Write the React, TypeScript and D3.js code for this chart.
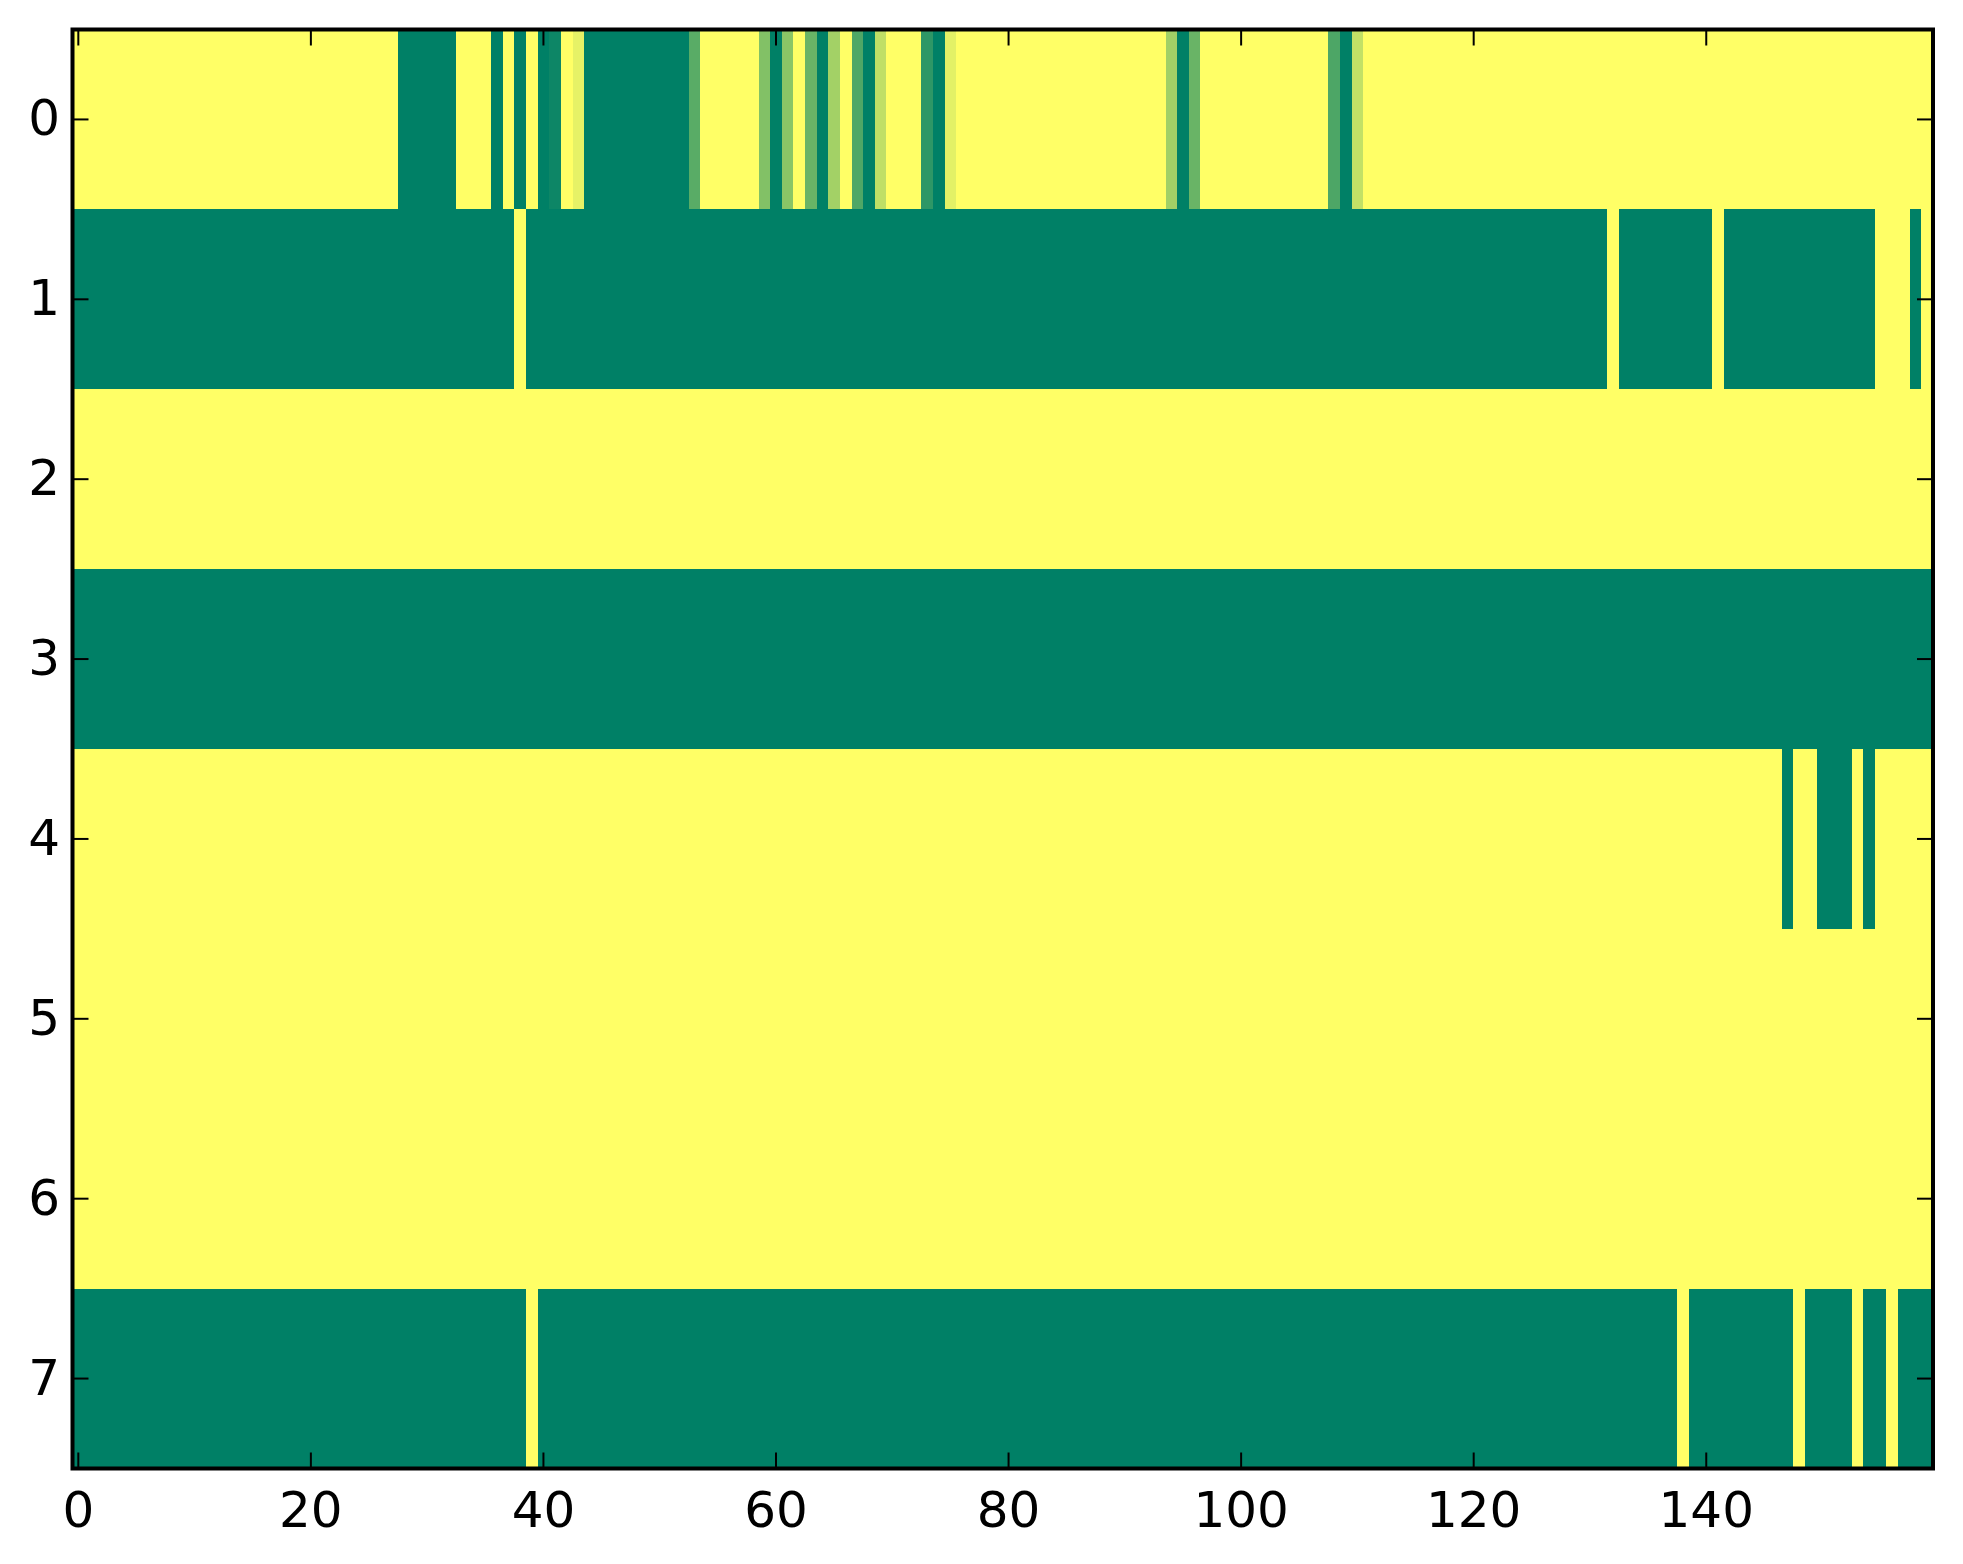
import { useMemo } from "react";
import * as d3 from "d3";

// Heatmap values: 1 = yellow end of the colormap, 0 = green end
const row0 = [
  1, 1, 1, 1, 1, 1, 1, 1, 1, 1, 1, 1, 1, 1, 1, 1, 1, 1, 1, 1,
  1, 1, 1, 1, 1, 1, 1, 1, 0, 0, 0, 0, 0, 1, 1, 1, 0, 1, 0, 1,
  0, 0.05, 1, 0.9, 0, 0, 0, 0, 0, 0, 0, 0, 0, 0.35, 1, 1, 1, 1, 1, 0.51,
  0, 0.54, 1, 0.41, 0, 0.64, 1, 0.31, 0, 0.75, 1, 1, 1, 0.18, 0, 0.89, 1, 1, 1, 1,
  1, 1, 1, 1, 1, 1, 1, 1, 1, 1, 1, 1, 1, 1, 0.63, 0, 0.41, 1, 1, 1,
  1, 1, 1, 1, 1, 1, 1, 1, 0.3, 0, 0.76, 1, 1, 1, 1, 1, 1, 1, 1, 1,
  1, 1, 1, 1, 1, 1, 1, 1, 1, 1, 1, 1, 1, 1, 1, 1, 1, 1, 1, 1,
  1, 1, 1, 1, 1, 1, 1, 1, 1, 1, 1, 1, 1, 1, 1, 1, 1, 1, 1, 1,
];
const row1 = [
  0, 0, 0, 0, 0, 0, 0, 0, 0, 0, 0, 0, 0, 0, 0, 0, 0, 0, 0, 0,
  0, 0, 0, 0, 0, 0, 0, 0, 0, 0, 0, 0, 0, 0, 0, 0, 0, 0, 1, 0,
  0, 0, 0, 0, 0, 0, 0, 0, 0, 0, 0, 0, 0, 0, 0, 0, 0, 0, 0, 0,
  0, 0, 0, 0, 0, 0, 0, 0, 0, 0, 0, 0, 0, 0, 0, 0, 0, 0, 0, 0,
  0, 0, 0, 0, 0, 0, 0, 0, 0, 0, 0, 0, 0, 0, 0, 0, 0, 0, 0, 0,
  0, 0, 0, 0, 0, 0, 0, 0, 0, 0, 0, 0, 0, 0, 0, 0, 0, 0, 0, 0,
  0, 0, 0, 0, 0, 0, 0, 0, 0, 0, 0, 0, 1, 0, 0, 0, 0, 0, 0, 0,
  0, 1, 0, 0, 0, 0, 0, 0, 0, 0, 0, 0, 0, 0, 0, 1, 1, 1, 0, 1,
];
const row2 = [
  1, 1, 1, 1, 1, 1, 1, 1, 1, 1, 1, 1, 1, 1, 1, 1, 1, 1, 1, 1,
  1, 1, 1, 1, 1, 1, 1, 1, 1, 1, 1, 1, 1, 1, 1, 1, 1, 1, 1, 1,
  1, 1, 1, 1, 1, 1, 1, 1, 1, 1, 1, 1, 1, 1, 1, 1, 1, 1, 1, 1,
  1, 1, 1, 1, 1, 1, 1, 1, 1, 1, 1, 1, 1, 1, 1, 1, 1, 1, 1, 1,
  1, 1, 1, 1, 1, 1, 1, 1, 1, 1, 1, 1, 1, 1, 1, 1, 1, 1, 1, 1,
  1, 1, 1, 1, 1, 1, 1, 1, 1, 1, 1, 1, 1, 1, 1, 1, 1, 1, 1, 1,
  1, 1, 1, 1, 1, 1, 1, 1, 1, 1, 1, 1, 1, 1, 1, 1, 1, 1, 1, 1,
  1, 1, 1, 1, 1, 1, 1, 1, 1, 1, 1, 1, 1, 1, 1, 1, 1, 1, 1, 1,
];
const row3 = [
  0, 0, 0, 0, 0, 0, 0, 0, 0, 0, 0, 0, 0, 0, 0, 0, 0, 0, 0, 0,
  0, 0, 0, 0, 0, 0, 0, 0, 0, 0, 0, 0, 0, 0, 0, 0, 0, 0, 0, 0,
  0, 0, 0, 0, 0, 0, 0, 0, 0, 0, 0, 0, 0, 0, 0, 0, 0, 0, 0, 0,
  0, 0, 0, 0, 0, 0, 0, 0, 0, 0, 0, 0, 0, 0, 0, 0, 0, 0, 0, 0,
  0, 0, 0, 0, 0, 0, 0, 0, 0, 0, 0, 0, 0, 0, 0, 0, 0, 0, 0, 0,
  0, 0, 0, 0, 0, 0, 0, 0, 0, 0, 0, 0, 0, 0, 0, 0, 0, 0, 0, 0,
  0, 0, 0, 0, 0, 0, 0, 0, 0, 0, 0, 0, 0, 0, 0, 0, 0, 0, 0, 0,
  0, 0, 0, 0, 0, 0, 0, 0, 0, 0, 0, 0, 0, 0, 0, 0, 0, 0, 0, 0,
];
const row4 = [
  1, 1, 1, 1, 1, 1, 1, 1, 1, 1, 1, 1, 1, 1, 1, 1, 1, 1, 1, 1,
  1, 1, 1, 1, 1, 1, 1, 1, 1, 1, 1, 1, 1, 1, 1, 1, 1, 1, 1, 1,
  1, 1, 1, 1, 1, 1, 1, 1, 1, 1, 1, 1, 1, 1, 1, 1, 1, 1, 1, 1,
  1, 1, 1, 1, 1, 1, 1, 1, 1, 1, 1, 1, 1, 1, 1, 1, 1, 1, 1, 1,
  1, 1, 1, 1, 1, 1, 1, 1, 1, 1, 1, 1, 1, 1, 1, 1, 1, 1, 1, 1,
  1, 1, 1, 1, 1, 1, 1, 1, 1, 1, 1, 1, 1, 1, 1, 1, 1, 1, 1, 1,
  1, 1, 1, 1, 1, 1, 1, 1, 1, 1, 1, 1, 1, 1, 1, 1, 1, 1, 1, 1,
  1, 1, 1, 1, 1, 1, 1, 0, 1, 1, 0, 0, 0, 1, 0, 1, 1, 1, 1, 1,
];
const row5 = [
  1, 1, 1, 1, 1, 1, 1, 1, 1, 1, 1, 1, 1, 1, 1, 1, 1, 1, 1, 1,
  1, 1, 1, 1, 1, 1, 1, 1, 1, 1, 1, 1, 1, 1, 1, 1, 1, 1, 1, 1,
  1, 1, 1, 1, 1, 1, 1, 1, 1, 1, 1, 1, 1, 1, 1, 1, 1, 1, 1, 1,
  1, 1, 1, 1, 1, 1, 1, 1, 1, 1, 1, 1, 1, 1, 1, 1, 1, 1, 1, 1,
  1, 1, 1, 1, 1, 1, 1, 1, 1, 1, 1, 1, 1, 1, 1, 1, 1, 1, 1, 1,
  1, 1, 1, 1, 1, 1, 1, 1, 1, 1, 1, 1, 1, 1, 1, 1, 1, 1, 1, 1,
  1, 1, 1, 1, 1, 1, 1, 1, 1, 1, 1, 1, 1, 1, 1, 1, 1, 1, 1, 1,
  1, 1, 1, 1, 1, 1, 1, 1, 1, 1, 1, 1, 1, 1, 1, 1, 1, 1, 1, 1,
];
const row6 = [
  1, 1, 1, 1, 1, 1, 1, 1, 1, 1, 1, 1, 1, 1, 1, 1, 1, 1, 1, 1,
  1, 1, 1, 1, 1, 1, 1, 1, 1, 1, 1, 1, 1, 1, 1, 1, 1, 1, 1, 1,
  1, 1, 1, 1, 1, 1, 1, 1, 1, 1, 1, 1, 1, 1, 1, 1, 1, 1, 1, 1,
  1, 1, 1, 1, 1, 1, 1, 1, 1, 1, 1, 1, 1, 1, 1, 1, 1, 1, 1, 1,
  1, 1, 1, 1, 1, 1, 1, 1, 1, 1, 1, 1, 1, 1, 1, 1, 1, 1, 1, 1,
  1, 1, 1, 1, 1, 1, 1, 1, 1, 1, 1, 1, 1, 1, 1, 1, 1, 1, 1, 1,
  1, 1, 1, 1, 1, 1, 1, 1, 1, 1, 1, 1, 1, 1, 1, 1, 1, 1, 1, 1,
  1, 1, 1, 1, 1, 1, 1, 1, 1, 1, 1, 1, 1, 1, 1, 1, 1, 1, 1, 1,
];
const row7 = [
  0, 0, 0, 0, 0, 0, 0, 0, 0, 0, 0, 0, 0, 0, 0, 0, 0, 0, 0, 0,
  0, 0, 0, 0, 0, 0, 0, 0, 0, 0, 0, 0, 0, 0, 0, 0, 0, 0, 0, 1,
  0, 0, 0, 0, 0, 0, 0, 0, 0, 0, 0, 0, 0, 0, 0, 0, 0, 0, 0, 0,
  0, 0, 0, 0, 0, 0, 0, 0, 0, 0, 0, 0, 0, 0, 0, 0, 0, 0, 0, 0,
  0, 0, 0, 0, 0, 0, 0, 0, 0, 0, 0, 0, 0, 0, 0, 0, 0, 0, 0, 0,
  0, 0, 0, 0, 0, 0, 0, 0, 0, 0, 0, 0, 0, 0, 0, 0, 0, 0, 0, 0,
  0, 0, 0, 0, 0, 0, 0, 0, 0, 0, 0, 0, 0, 0, 0, 0, 0, 0, 1, 0,
  0, 0, 0, 0, 0, 0, 0, 0, 1, 0, 0, 0, 0, 1, 0, 0, 1, 0, 0, 0,
];

const rows = [row0, row1, row2, row3, row4, row5, row6, row7];
const xTicks = [0, 20, 40, 60, 80, 100, 120, 140];
const yTicks = [0, 1, 2, 3, 4, 5, 6, 7];

const W = 1963;
const H = 1564;
const PLOT = { left: 72.5, right: 1933, top: 29.5, bottom: 1468.5 };
const FONT = "DejaVu Sans, sans-serif";
const TICK = 16;

// matplotlib "summer": green (0) -> yellow (1)
const summer = d3.interpolateRgb("rgb(0,128,102)", "rgb(255,255,102)");

export default function App() {
  const x = useMemo(
    () => d3.scaleLinear().domain([-0.5, 159.5]).range([PLOT.left, PLOT.right]),
    []
  );
  const y = useMemo(
    () => d3.scaleLinear().domain([-0.5, 7.5]).range([PLOT.top, PLOT.bottom]),
    []
  );

  return (
    <svg
      width={W}
      height={H}
      style={{ position: "absolute", left: 0, top: 0, background: "#fff" }}
    >
      <g shapeRendering="crispEdges">
        {rows.map((row, r) =>
          row.map((v, c) => (
            <rect
              key={`${r}-${c}`}
              x={x(c - 0.5)}
              y={y(r - 0.5)}
              width={x(c + 0.5) - x(c - 0.5) + 0.5}
              height={y(r + 0.5) - y(r - 0.5) + 0.5}
              fill={summer(v)}
            />
          ))
        )}
      </g>

      {/* ticks on all four sides, pointing inward */}
      <g stroke="#000" strokeWidth={2}>
        {xTicks.map((t) => (
          <g key={`xt${t}`}>
            <line x1={x(t)} x2={x(t)} y1={PLOT.bottom} y2={PLOT.bottom - TICK} />
            <line x1={x(t)} x2={x(t)} y1={PLOT.top} y2={PLOT.top + TICK} />
          </g>
        ))}
        {yTicks.map((t) => (
          <g key={`yt${t}`}>
            <line x1={PLOT.left} x2={PLOT.left + TICK} y1={y(t)} y2={y(t)} />
            <line x1={PLOT.right} x2={PLOT.right - TICK} y1={y(t)} y2={y(t)} />
          </g>
        ))}
      </g>

      <rect
        x={PLOT.left}
        y={PLOT.top}
        width={PLOT.right - PLOT.left}
        height={PLOT.bottom - PLOT.top}
        fill="none"
        stroke="#000"
        strokeWidth={4}
      />

      <g fontFamily={FONT} fontSize={50} fill="#000">
        {xTicks.map((t) => (
          <text key={`xl${t}`} x={x(t)} y={PLOT.bottom + 58} textAnchor="middle">
            {t}
          </text>
        ))}
        {yTicks.map((t) => (
          <text key={`yl${t}`} x={60} y={y(t) + 16} textAnchor="end">
            {t}
          </text>
        ))}
      </g>
    </svg>
  );
}
